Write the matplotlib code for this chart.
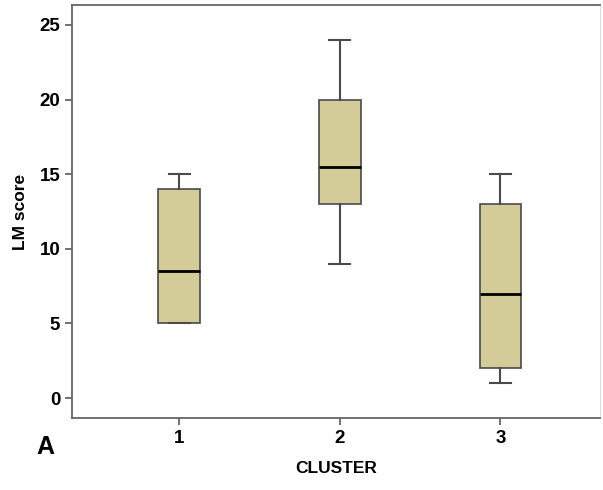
import matplotlib
matplotlib.use("Agg")
import matplotlib.pyplot as plt

plt.rcParams['font.family'] = ['Liberation Sans', 'DejaVu Sans']

clusters = ['1', '2', '3']
whislo = [5, 9, 1]
q1 = [5, 13, 2]
med = [8.5, 15.5, 7]
q3 = [14, 20, 13]
whishi = [15, 24, 15]

stats = []
for i in range(len(clusters)):
    stats.append(dict(label=clusters[i], whislo=whislo[i], q1=q1[i], med=med[i],
                      q3=q3[i], whishi=whishi[i], fliers=[]))

fig = plt.figure(figsize=(6.03, 4.90), dpi=100)
ax = fig.add_axes([72/603, 1-418/490, 528/603, 413/490])

ax.bxp(stats, positions=[1, 2, 3], widths=0.26, patch_artist=True, showfliers=False,
       boxprops=dict(facecolor='#d3cc98', edgecolor='#4a4a4a', linewidth=1.2),
       medianprops=dict(color='black', linewidth=2),
       whiskerprops=dict(color='#4a4a4a', linewidth=1.5),
       capprops=dict(color='#4a4a4a', linewidth=1.5), capwidths=0.13)

ax.set_xlim(0.333, 3.62)
ax.set_ylim(-1.34, 26.34)
ax.set_yticks([0, 5, 10, 15, 20, 25])
ax.set_xticks([1, 2, 3])
ax.set_xticklabels(clusters)

for s in ['left', 'bottom', 'top']:
    ax.spines[s].set_color('#666666')
    ax.spines[s].set_linewidth(1.3)
ax.spines['right'].set_color('#dddddd')

ax.tick_params(axis='both', colors='#666666', labelcolor='black', length=5, width=1.3,
               labelsize=13.5)
for lab in ax.get_xticklabels() + ax.get_yticklabels():
    lab.set_fontweight('bold')

ax.set_ylabel('LM score', fontsize=12.5, fontweight='bold', labelpad=8)
ax.set_xlabel('CLUSTER', fontsize=12.5, fontweight='bold', labelpad=10)
fig.text(45/603, 1-447/490, 'A', fontsize=18, fontweight='bold', ha='center', va='center')

fig.savefig('out.png', dpi=100)
